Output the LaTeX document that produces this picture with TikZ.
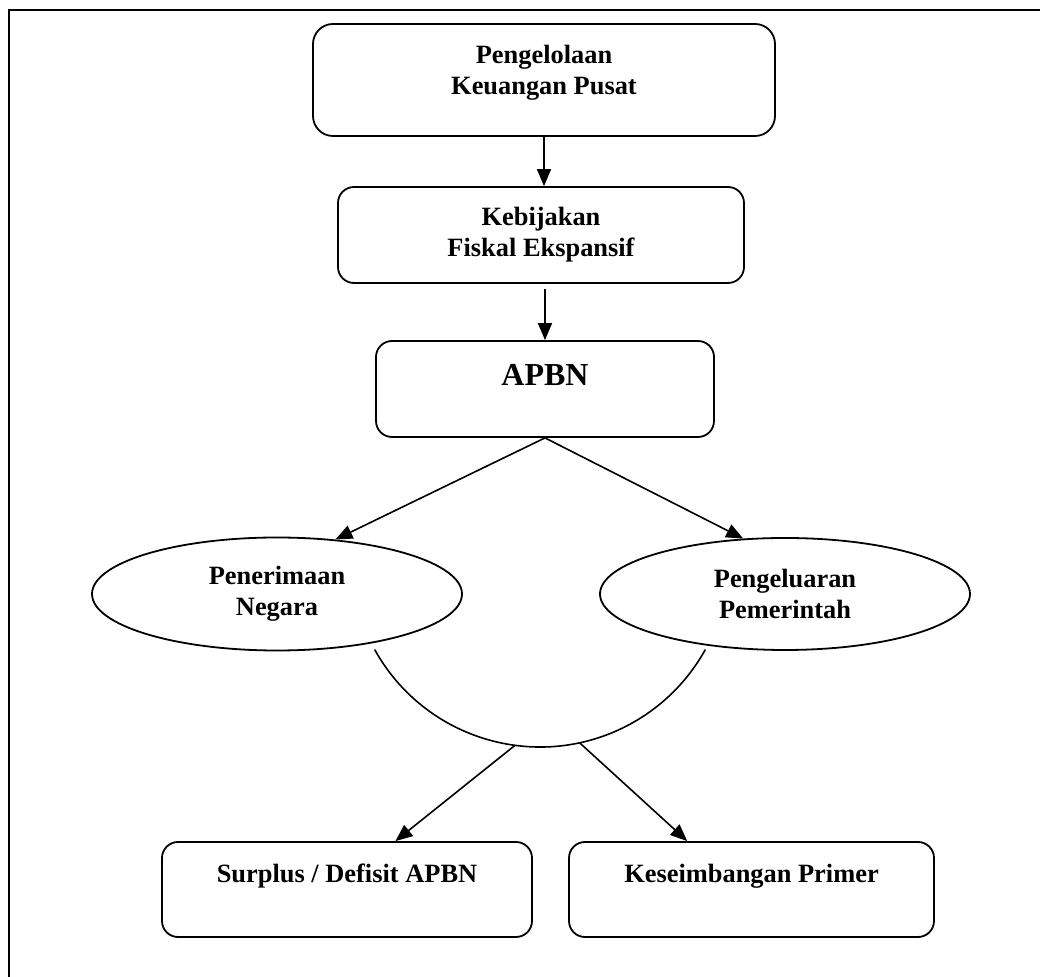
\documentclass[tikz,border=0pt]{standalone}
\usepackage{fontspec}
\setmainfont{Liberation Serif}
\usetikzlibrary{arrows.meta,shapes.geometric}

\begin{document}
\begin{tikzpicture}[x=0.5pt, y=0.5pt,
  every node/.style={font=\fontsize{13.2}{15.5}\selectfont\bfseries, align=center},
  box/.style={draw, line width=0.9pt, rounded corners=8pt, inner sep=0pt},
  oval/.style={draw, line width=0.9pt, ellipse, inner sep=0pt, minimum width=185pt},
  arr/.style={line width=0.8pt, -{Triangle[length=8.5pt,width=7pt]}}]
  \useasboundingbox (0,0) rectangle (1040,-977);
  % Frame
  \draw[line width=1pt] (9,-977) |- (1040,-10);

  % Boxes
  \node[box, rounded corners=10pt, minimum width=231pt, minimum height=56pt, text depth=10pt] (pusat) at (544,-80) {Pengelolaan\\Keuangan Pusat};
  \node[box, minimum width=203pt, minimum height=48pt] (fiskal) at (541,-235) {Kebijakan\\Fiskal Ekspansif};
  \node[box, minimum width=169pt, minimum height=48pt, font=\fontsize{16}{19}\selectfont\bfseries, text depth=13.6pt] (apbn) at (545,-389) {APBN};
  \node[oval, minimum height=56.5pt] (terima) at (277,-594) {Penerimaan\\Negara};
  \node[oval, minimum height=56pt] (keluar) at (785,-594) {Pengeluaran\\Pemerintah};
  \node[box, minimum width=185pt, minimum height=47.5pt, text depth=16.5pt] (surplus) at (347,-889.5) {Surplus / Defisit APBN};
  \node[box, minimum width=182.5pt, minimum height=47.5pt, text depth=16.5pt] (primer) at (751.5,-889.5) {Keseimbangan Primer};

  % Bowl under the two ovals
  \coordinate (bowlc) at (540,-558);
  \draw[line width=0.8pt] (bowlc) ++(209:94.5pt) arc[start angle=209, end angle=331, radius=94.5pt];
  \path (bowlc) ++(262.4:94.5pt) coordinate (bowlL);
  \path (bowlc) ++(282.1:94.5pt) coordinate (bowlR);

  % Arrows
  \draw[arr] (pusat.south) -- (pusat.south |- fiskal.north);
  \draw[arr, shorten <=2.5pt] (apbn.north |- fiskal.south) -- (apbn.north);
  \draw[arr] (apbn.south) -- (terima.43);
  \draw[arr] (apbn.south) -- (keluar.127);
  \draw[arr] (bowlL) -- (surplus.45);
  \draw[arr] (bowlR) -- (primer.143);
\end{tikzpicture}
\end{document}
